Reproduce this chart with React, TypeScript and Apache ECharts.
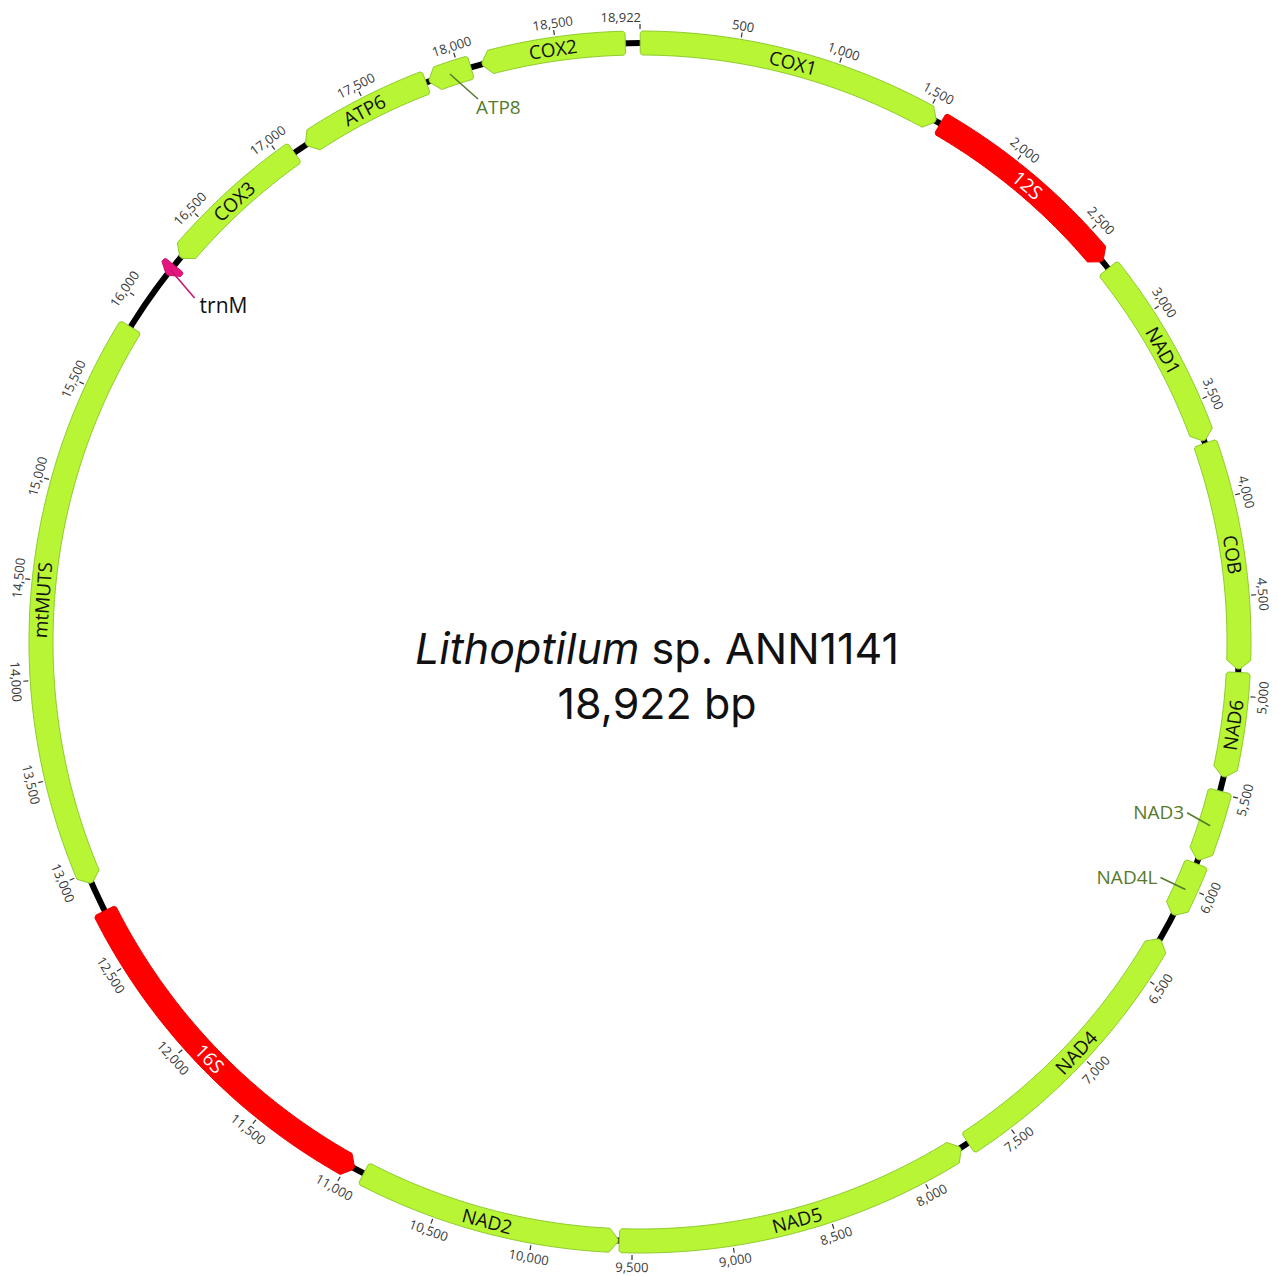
import React, { useEffect, useRef } from 'react';
import * as echarts from 'echarts';

// ---------------- data ----------------
const TOTAL_BP = 18922;
const geneNames = ['COX1', '12S', 'NAD1', 'COB', 'NAD6', 'NAD3', 'NAD4L', 'NAD4', 'NAD5', 'NAD2', '16S', 'mtMUTS', 'trnM', 'COX3', 'ATP6', 'ATP8', 'COX2'];
const geneStarts = [1, 1581, 2702, 3712, 4884, 5488, 5872, 6295, 7760, 9570, 10960, 12945, 16180, 16290, 17141, 17839, 18118];
const geneEnds = [1555, 2655, 3698, 4867, 5415, 5851, 6155, 7715, 9565, 10905, 12790, 15860, 16240, 17070, 17823, 18060, 18848];
const geneStrands = [1, 1, 1, 1, 1, 1, 1, -1, -1, -1, -1, -1, -1, -1, -1, -1, -1];
const geneTypes = ['CDS', 'rRNA', 'CDS', 'CDS', 'CDS', 'CDS', 'CDS', 'CDS', 'CDS', 'CDS', 'rRNA', 'CDS', 'tRNA', 'CDS', 'CDS', 'CDS', 'CDS'];
const tickValues = [0, 500, 1000, 1500, 2000, 2500, 3000, 3500, 4000, 4500, 5000, 5500, 6000, 6500, 7000, 7500, 8000, 8500, 9000, 9500, 10000, 10500, 11000, 11500, 12000, 12500, 13000, 13500, 14000, 14500, 15000, 15500, 16000, 16500, 17000, 17500, 18000, 18500];
const titleName = 'Lithoptilum';
const titleRest = ' sp. ANN1141';
const titleLength = '18,922 bp';

// ---------------- layout / style ----------------
const CX = 640;
const CY = 642;
const R_MID = 599;
const R_IN = 587;
const R_OUT = 611;
const HEAD_PX = 9;
const BP_PER_PX = TOTAL_BP / (2 * Math.PI * R_MID);

const typeFill: Record<string, string> = { CDS: '#B7F535', rRNA: '#FF0000', tRNA: '#E5157F' };
const typeStroke: Record<string, string> = { CDS: '#8FCB2C', rRNA: '#F00000', tRNA: '#D0106F' };
const typeText: Record<string, string> = { CDS: '#111111', rRNA: '#FFFFFF', tRNA: '#111111' };

// external labels with leader lines (offsets in px from the feature anchor)
const leaderLabels: Record<string, any> = {
  ATP8: { lx: 28, ly: 25, tx: 26, ty: 33, align: 'left', color: '#567A2B', line: '#567A2B', size: 19 },
  NAD3: { lx: -23, ly: -13, tx: -26, ty: -14, align: 'right', color: '#567A2B', line: '#567A2B', size: 19 },
  NAD4L: { lx: -25, ly: -12, tx: -28, ty: -13, align: 'right', color: '#567A2B', line: '#567A2B', size: 19 },
  trnM: { lx: 24, ly: 28, tx: 29, ty: 35, align: 'left', color: '#111111', line: '#C8106E', size: 21 },
};

const FONT = '"Open Sans", "Noto Sans", sans-serif';

function labelRotation(pos: number) {
  const deg = (pos / TOTAL_BP) * 360;
  const d = deg > 90 && deg < 270 ? deg - 180 : deg;
  return (-d * Math.PI) / 180;
}

function arc(api: any, r: number, a: number, b: number, pts: number[][]) {
  const n = Math.max(2, Math.ceil(Math.abs(b - a) / 20));
  for (let i = 0; i <= n; i++) {
    const v = a + ((b - a) * i) / n;
    pts.push(api.coord([r, v]));
  }
}

function renderGene(params: any, api: any) {
  const i = params.dataIndex;
  const s = api.value(0);
  const e = api.value(1);
  const strand = api.value(2);
  const type = geneTypes[i];
  const name = geneNames[i];
  const len = e - s;
  const h = Math.min(HEAD_PX * BP_PER_PX, len * 0.6);
  const c = Math.min(2 * BP_PER_PX, len * 0.1);
  const pts: number[][] = [];
  if (strand > 0) {
    pts.push(api.coord([R_OUT - 2, s]));
    arc(api, R_OUT, s + c, e - h, pts);
    pts.push(api.coord([R_MID + 1.5, e - 0.3 * BP_PER_PX]));
    pts.push(api.coord([R_MID - 1.5, e - 0.3 * BP_PER_PX]));
    arc(api, R_IN, e - h, s + c, pts);
    pts.push(api.coord([R_IN + 2, s]));
  } else {
    pts.push(api.coord([R_MID + 1.5, s + 0.3 * BP_PER_PX]));
    arc(api, R_OUT, s + h, e - c, pts);
    pts.push(api.coord([R_OUT - 2, e]));
    pts.push(api.coord([R_IN + 2, e]));
    arc(api, R_IN, e - c, s + h, pts);
    pts.push(api.coord([R_MID - 1.5, s + 0.3 * BP_PER_PX]));
  }
  const children: any[] = [
    {
      type: 'polygon',
      shape: { points: pts },
      style: { fill: typeFill[type], stroke: typeStroke[type], lineWidth: 1, lineJoin: 'round' },
    },
  ];
  const mid = (s + e) / 2;
  const anchor = api.coord([R_MID, mid]);
  const ll = leaderLabels[name];
  if (ll) {
    children.push({
      type: 'line',
      shape: { x1: anchor[0], y1: anchor[1], x2: anchor[0] + ll.lx, y2: anchor[1] + ll.ly },
      style: { stroke: ll.line, lineWidth: 1.5 },
    });
    children.push({
      type: 'text',
      x: anchor[0] + ll.tx,
      y: anchor[1] + ll.ty,
      style: {
        text: name,
        fill: ll.color,
        font: `${ll.size}px ${FONT}`,
        align: ll.align,
        verticalAlign: 'middle',
      },
    });
  } else {
    children.push({
      type: 'text',
      x: anchor[0],
      y: anchor[1],
      rotation: labelRotation(mid),
      style: {
        text: name,
        fill: typeText[type],
        font: `19px ${FONT}`,
        align: 'center',
        verticalAlign: 'middle',
      },
    });
  }
  return { type: 'group', children };
}

function renderTick(params: any, api: any) {
  const v = api.value(1);
  const p1 = api.coord([613, v]);
  const p2 = api.coord([618, v]);
  const pl = api.coord([625, v]);
  const label = v === 0 ? TOTAL_BP.toLocaleString('en-US') : v.toLocaleString('en-US');
  return {
    type: 'group',
    children: [
      { type: 'line', shape: { x1: p1[0], y1: p1[1], x2: p2[0], y2: p2[1] }, style: { stroke: '#333333', lineWidth: 1.2 } },
      {
        type: 'text',
        x: v === 0 ? p1[0] + 1 : pl[0],
        y: pl[1],
        rotation: labelRotation(v),
        style: {
          text: label,
          fill: '#3a3a3a',
          font: `13px ${FONT}`,
          align: v === 0 ? 'right' : 'center',
          verticalAlign: 'middle',
        },
      },
    ],
  };
}

function renderBackbone(params: any, api: any) {
  const c = api.coord([0, 0]);
  const p = api.coord([R_MID, 0]);
  const r = Math.hypot(p[0] - c[0], p[1] - c[1]);
  return {
    type: 'circle',
    shape: { cx: c[0], cy: c[1], r },
    style: { fill: 'none', stroke: '#000000', lineWidth: 6 },
  };
}

export default function App() {
  const ref = useRef<HTMLDivElement>(null);
  useEffect(() => {
    if (!ref.current) return;
    const chart = echarts.init(ref.current, undefined, { renderer: 'svg' });
    const geneData = geneNames.map((_, i) => [geneStarts[i], geneEnds[i], geneStrands[i]]);
    chart.setOption({
      animation: false,
      backgroundColor: '#ffffff',
      polar: { center: [CX, CY], radius: 700 },
      angleAxis: { type: 'value', min: 0, max: TOTAL_BP, startAngle: 90, clockwise: true, show: false },
      radiusAxis: { type: 'value', min: 0, max: 700, show: false },
      graphic: [
        {
          type: 'text',
          x: 657,
          y: 675,
          style: {
            text: `{i|${titleName}}{n|${titleRest}}\n{n|${titleLength}}`,
            align: 'center',
            verticalAlign: 'middle',
            rich: {
              i: { fontFamily: 'Inter, Roboto, sans-serif', fontStyle: 'italic', fontSize: 43, fill: '#111', lineHeight: 55 },
              n: { fontFamily: 'Inter, Roboto, sans-serif', fontSize: 43, fill: '#111', lineHeight: 55 },
            },
          },
        },
      ],
      series: [
        {
          type: 'custom',
          coordinateSystem: 'polar',
          z: 1,
          silent: true,
          renderItem: renderBackbone,
          data: [[R_MID, 0]],
        },
        {
          type: 'custom',
          coordinateSystem: 'polar',
          z: 2,
          silent: true,
          renderItem: renderTick,
          data: tickValues.map((v) => [618, v]),
        },
        {
          type: 'custom',
          coordinateSystem: 'polar',
          z: 3,
          silent: true,
          renderItem: renderGene,
          data: geneData,
        },
      ],
    });
    return () => chart.dispose();
  }, []);
  return <div ref={ref} style={{ position: 'absolute', left: 0, top: 0, width: 1279, height: 1276 }} />;
}
